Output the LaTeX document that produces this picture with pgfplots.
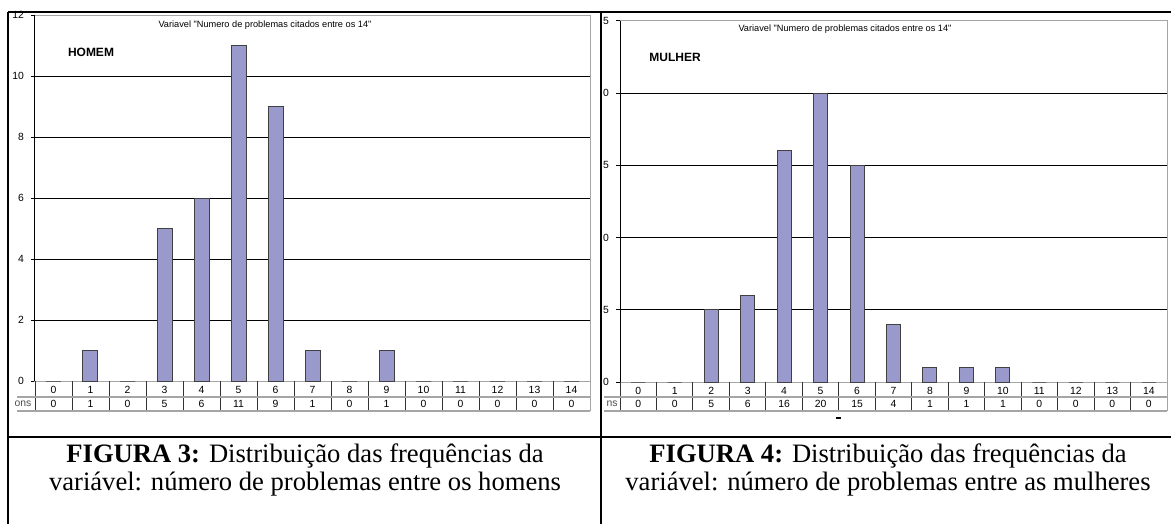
\documentclass[border=0pt]{standalone}
\usepackage{fontspec}
\setmainfont{Liberation Serif}
\newfontfamily\arial{Liberation Sans}
\usepackage{pgfplots}
\usepackage{pgfplotstable}
\pgfplotsset{compat=1.18}

\definecolor{barfill}{RGB}{153,153,204}
\definecolor{frame}{RGB}{165,165,165}

% frequencies, 0..14 problems cited
\pgfplotstableread{
x n
0 0
1 1
2 0
3 5
4 6
5 11
6 9
7 1
8 0
9 1
10 0
11 0
12 0
13 0
14 0
}\homem
\pgfplotstableread{
x n
0 0
1 0
2 5
3 6
4 16
5 20
6 15
7 4
8 1
9 1
10 1
11 0
12 0
13 0
14 0
}\mulher

\newcommand{\tabfont}{\arial\fontsize{5.2}{6}\selectfont}

\pgfplotsset{excel/.style={
    scale only axis, anchor=south west, clip=false,
    xmin=-0.5, xmax=14.5, ymin=0,
    axis line style={frame, line width=0.5pt},
    xtick={0,...,14}, xtick style={draw=none},
    xticklabel style={anchor=center, font=\tabfont},
    yticklabel style={font=\tabfont},
    ytick style={black, line width=0.5pt}, ytick pos=left,
    tick align=outside, major tick length=2pt,
    ymajorgrids, grid style={black, line width=0.5pt},
    extra y tick style={grid=none},
    /pgf/number format/assume math mode=true,
    every node near coord/.append style={font=\tabfont},
    nodes near coords align={center},
}}

\begin{document}
\begin{tikzpicture}
\useasboundingbox (0,0) rectangle (585.5pt,-262pt);

% FIGURA 3
\begin{axis}[excel,
    at={(17.5pt,-190.5pt)}, width=277.5pt, height=183pt,
    ymax=12, ytick={0,2,...,10}, extra y ticks={12},
    xticklabel style={yshift=-2.3pt},
]
\addplot[ybar, bar width=7.5pt, fill=barfill, draw=black!75, line width=0.5pt] table[x=x,y=n] {\homem};
\addplot[draw=none, mark=none, nodes near coords, point meta=explicit] table[x=x, y expr=-0.754, meta=n] {\homem};
\draw[black, line width=0.5pt] (rel axis cs:0,0) -- (rel axis cs:0,1);
\end{axis}

% FIGURA 4
\begin{axis}[excel,
    at={(310pt,-191pt)}, width=273.5pt, height=180.5pt,
    ymax=25, ytick={0,5,...,20}, yticklabels={0,5,0,5,0},
    extra y ticks={25}, extra y tick labels={5},
    xticklabel style={yshift=-2.3pt},
]
\addplot[ybar, bar width=7pt, fill=barfill, draw=black!75, line width=0.5pt] table[x=x,y=n] {\mulher};
\addplot[draw=none, mark=none, nodes near coords, point meta=explicit] table[x=x, y expr=-1.52, meta=n] {\mulher};
\draw[black, line width=0.5pt] (rel axis cs:0,0) -- (rel axis cs:0,1);
\end{axis}

\begin{scope}[x=0.5pt, y=-0.5pt]
  % data tables under the charts
  \foreach \i in {0,...,14} \draw[black!80, line width=0.5pt] ({35+37*\i},381) -- ({35+37*\i},411);
  \draw[frame, line width=0.5pt] (590,381) -- (590,411);
  \draw[frame, line width=0.6pt] (17,397) -- (590,397) (17,411) -- (590,411);
  \node[font=\tabfont, text=black!70] at (23,404) {ons};
  \foreach \i in {0,...,14} \draw[black!80, line width=0.5pt] ({620+36.47*\i},382) -- ({620+36.47*\i},411);
  \draw[frame, line width=0.5pt] (1167,382) -- (1167,411);
  \draw[frame, line width=0.6pt] (604,397) -- (1167,397) (604,411) -- (1167,411);
  \node[font=\tabfont, text=black!70] at (612,404) {ns};
  \draw[black, line width=1pt] (836,418) -- (841,418);

  % chart titles
  \node[font=\arial\fontsize{4.6}{5}\selectfont] at (265,25) {Variavel "Numero de problemas citados entre os 14"};
  \node[font=\arial\fontsize{4.6}{5}\selectfont] at (845,29) {Variavel "Numero de problemas citados entre os 14"};
  \node[font=\arial\bfseries\fontsize{6}{7}\selectfont] at (91,52) {HOMEM};
  \node[font=\arial\bfseries\fontsize{6}{7}\selectfont] at (675,57) {MULHER};

  % outer table frame
  \draw[black, line width=1.1pt] (8,12) -- (1171,12);
  \draw[black, line width=1.1pt] (8,12) -- (8,524);
  \draw[black, line width=1.1pt] (601,12) -- (601,524);
  \draw[black, line width=1.1pt] (8,437) -- (1171,437);

  % captions
  \node[align=center, font=\fontsize{13.3}{14}\selectfont] at (305,470)
    {\textbf{FIGURA 3:} Distribuição das frequências da\\variável: número de problemas entre os homens};
  \node[align=center, font=\fontsize{13.3}{14}\selectfont] at (888,470)
    {\textbf{FIGURA 4:} Distribuição das frequências da\\variável: número de problemas entre as mulheres};
\end{scope}
\end{tikzpicture}
\end{document}
